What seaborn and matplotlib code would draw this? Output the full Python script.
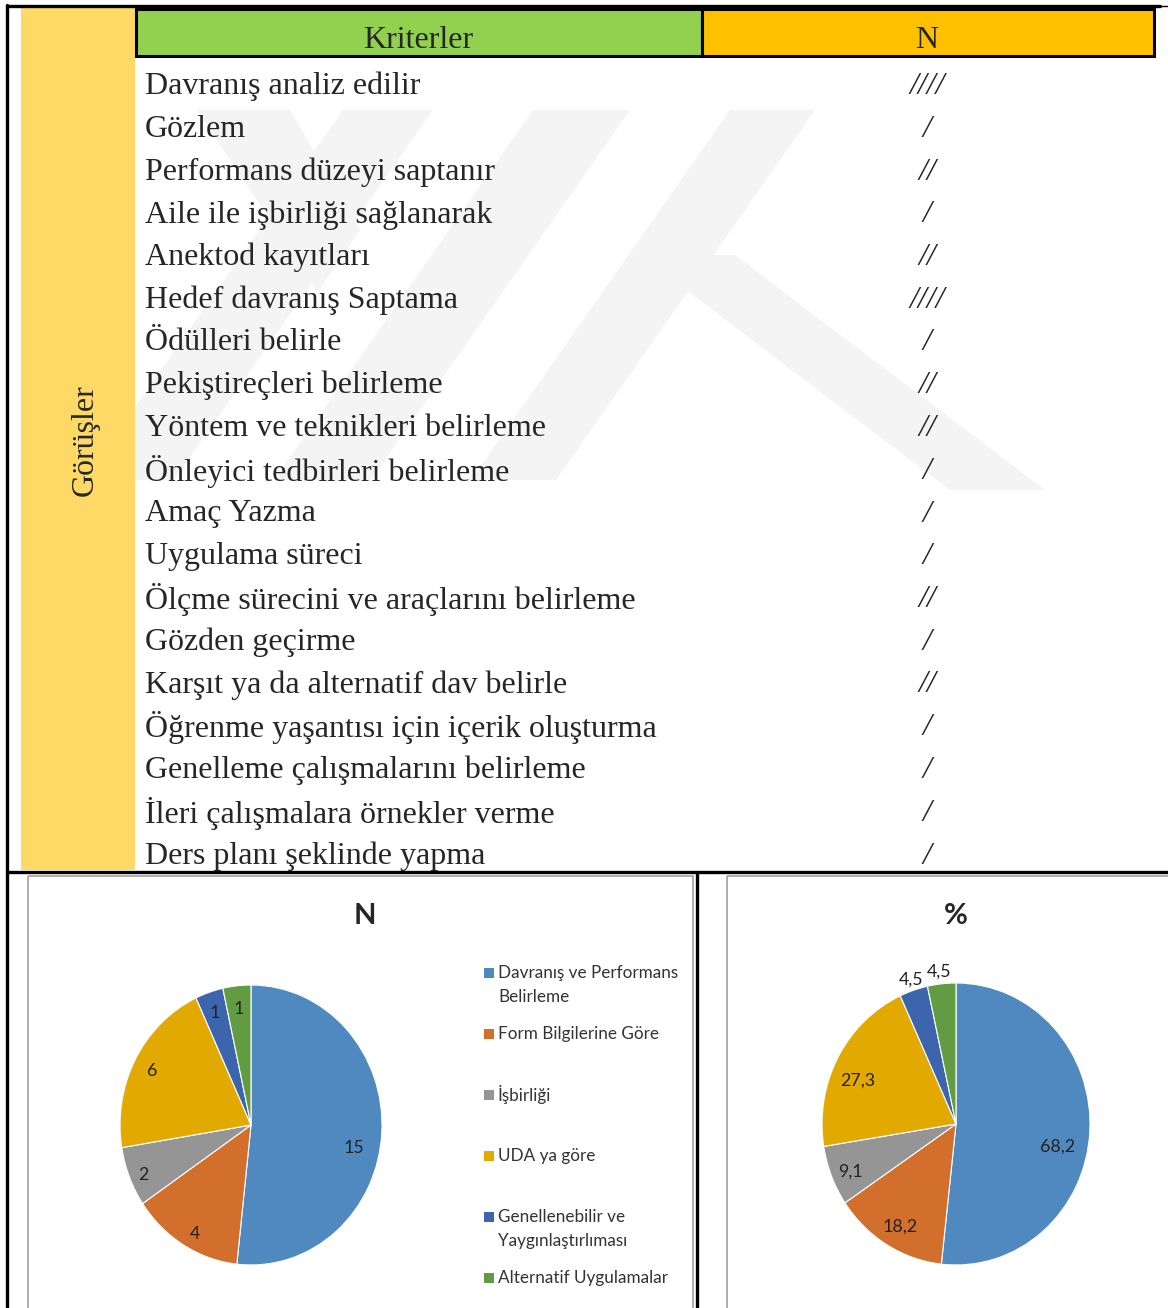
import matplotlib
matplotlib.use("Agg")
import matplotlib.pyplot as plt
from matplotlib.patches import Rectangle, Polygon
import numpy as np
import pandas as pd
import seaborn as sns

# --- data ---
criteria = [
    "Davranış analiz edilir", "Gözlem", "Performans düzeyi saptanır",
    "Aile ile işbirliği sağlanarak", "Anektod kayıtları", "Hedef davranış Saptama",
    "Ödülleri belirle", "Pekiştireçleri belirleme", "Yöntem ve teknikleri belirleme",
    "Önleyici tedbirleri belirleme", "Amaç Yazma", "Uygulama süreci",
    "Ölçme sürecini ve araçlarını belirleme", "Gözden geçirme",
    "Karşıt ya da alternatif dav belirle", "Öğrenme yaşantısı için içerik oluşturma",
    "Genelleme çalışmalarını belirleme", "İleri çalışmalara örnekler verme",
    "Ders planı şeklinde yapma",
]
tally = [4, 1, 2, 1, 2, 4, 1, 2, 2, 1, 1, 1, 2, 1, 2, 1, 1, 1, 1]

groups = [
    "Davranış ve Performans\nBelirleme", "Form Bilgilerine Göre", "İşbirliği",
    "UDA ya göre", "Genellenebilir ve\nYaygınlaştırlıması", "Alternatif Uygulamalar",
]
group_n = [15, 4, 2, 6, 1, 1]
group_pct = [68.2, 18.2, 9.1, 27.3, 4.5, 4.5]

df = pd.DataFrame({"Kriterler": criteria, "N": tally})

# --- style ---
sns.set_theme(style="white")
plt.rcParams["font.family"] = ["Liberation Serif", "DejaVu Serif"]
pie_colors = sns.color_palette(["#5089BF", "#D36F2C", "#959595", "#E2AA00", "#3D65AE", "#629B41"])
serif = ["Liberation Serif", "DejaVu Serif"]
sans = ["Lato", "DejaVu Sans"]

W, H = 1168, 1308
fig = plt.figure(figsize=(W / 100, H / 100), dpi=100)
bg = fig.add_axes([0, 0, 1, 1])
bg.set_xlim(0, W)
bg.set_ylim(H, 0)
bg.axis("off")

# faint watermark in the table area
wm = "#F4F4F4"
for pts in [
    [(343, 110), (433, 110), (174, 480), (84, 480)],
    [(533, 110), (630, 110), (371, 480), (274, 480)],
    [(730, 110), (815, 110), (556, 480), (471, 480)],
    [(197, 110), (290, 110), (360, 230), (318, 292)],
    [(640, 255), (735, 255), (1045, 490), (950, 490)],
]:
    bg.add_patch(Polygon(pts, closed=True, facecolor=wm, edgecolor="none", zorder=0))

# side column
bg.add_patch(Rectangle((21, 7), 114, 863, facecolor="#FFD966", edgecolor="none", zorder=1))
bg.text(85, 440, "Görüşler", rotation=90, ha="center", va="center", fontsize=23, family=serif, zorder=3)

# header cells
bg.add_patch(Rectangle((136, 9), 566, 47, facecolor="#92D050", edgecolor="black", lw=2.2, zorder=2))
bg.add_patch(Rectangle((702, 9), 452, 47, facecolor="#FFC000", edgecolor="black", lw=2.2, zorder=2))
bg.text(418, 40, "Kriterler", ha="center", va="center", fontsize=23, family=serif, zorder=3)
bg.text(927, 40, "N", ha="center", va="center", fontsize=23, family=serif, zorder=3)

# table rows
row0, row_h = 86.5, 42.75
for i, r in df.iterrows():
    y = row0 + i * row_h
    bg.text(145, y, r["Kriterler"], ha="left", va="center", fontsize=23, family=serif, zorder=3)
    bg.text(927, y, "/" * r["N"], ha="center", va="center", fontsize=23, family=serif,
            style="italic", zorder=3)

# frame lines
bg.plot([7, 7], [5, H], color="black", lw=2.4, zorder=4)
bg.plot([7, 1160], [6, 6], color="black", lw=2.4, zorder=4)
bg.plot([1160, W], [6, 6], color="black", lw=1.0, zorder=4)
bg.plot([7, W], [872, 872], color="black", lw=2.4, zorder=4)
bg.plot([697, 697], [872, H], color="black", lw=2.4, zorder=4)

# chart boxes
bg.add_patch(Rectangle((28, 876), 665, 440, facecolor="none", edgecolor="#A0A0A0", lw=1.2, zorder=4))
bg.add_patch(Rectangle((727, 876), 460, 440, facecolor="none", edgecolor="#A0A0A0", lw=1.2, zorder=4))
bg.text(365, 916, "N", ha="center", va="center", fontsize=21, weight="bold", family=sans, zorder=5)
bg.text(956, 916, "%", ha="center", va="center", fontsize=21, weight="bold", family=sans, zorder=5)


def pie_axes(cx, cy, rx, ry):
    return fig.add_axes([(cx - rx) / W, 1 - (cy + ry) / H, 2 * rx / W, 2 * ry / H])


def draw_pie(ax, values, labels, dists, shifts):
    wedges, _ = ax.pie(values, colors=pie_colors, startangle=90, counterclock=False,
                       wedgeprops=dict(edgecolor="white", linewidth=0.8))
    ax.set_aspect("auto")
    ax.set_xlim(-1, 1)
    ax.set_ylim(-1, 1)
    ax.axis("off")
    for w, lab, d, s in zip(wedges, labels, dists, shifts):
        a = np.deg2rad((w.theta1 + w.theta2) / 2 + s)
        ax.text(d * np.cos(a), d * np.sin(a) - 0.022, lab, ha="center", va="center",
                fontsize=12.8, family=sans, color="#222222")


ax1 = pie_axes(251, 1125, 131, 140)
draw_pie(ax1, group_n, [str(v) for v in group_n],
         [0.80, 0.87, 0.89, 0.86, 0.87, 0.855], [-7, 1.5, 0.5, -0.5, 0, 0])

ax2 = pie_axes(956, 1124, 134, 141)
draw_pie(ax2, group_pct, [f"{v:.1f}".replace(".", ",") for v in group_pct],
         [0.77, 0.82, 0.85, 0.80, 1.10, 1.11], [-7, 0.5, 0.4, 4, -0.6, 0.4])

# legend of the N chart
leg0, leg_step, line_step = 973, 61, 24
for i, (lab, c) in enumerate(zip(groups, pie_colors)):
    y = leg0 + i * leg_step
    bg.add_patch(Rectangle((484, y - 5), 10, 10, facecolor=c, edgecolor="none", zorder=5))
    for j, line in enumerate(lab.split("\n")):
        bg.text(498, y + j * line_step, line, ha="left", va="center", fontsize=12.3,
                family=sans, color="#333333", zorder=5)

fig.savefig("out.png", dpi=100)
